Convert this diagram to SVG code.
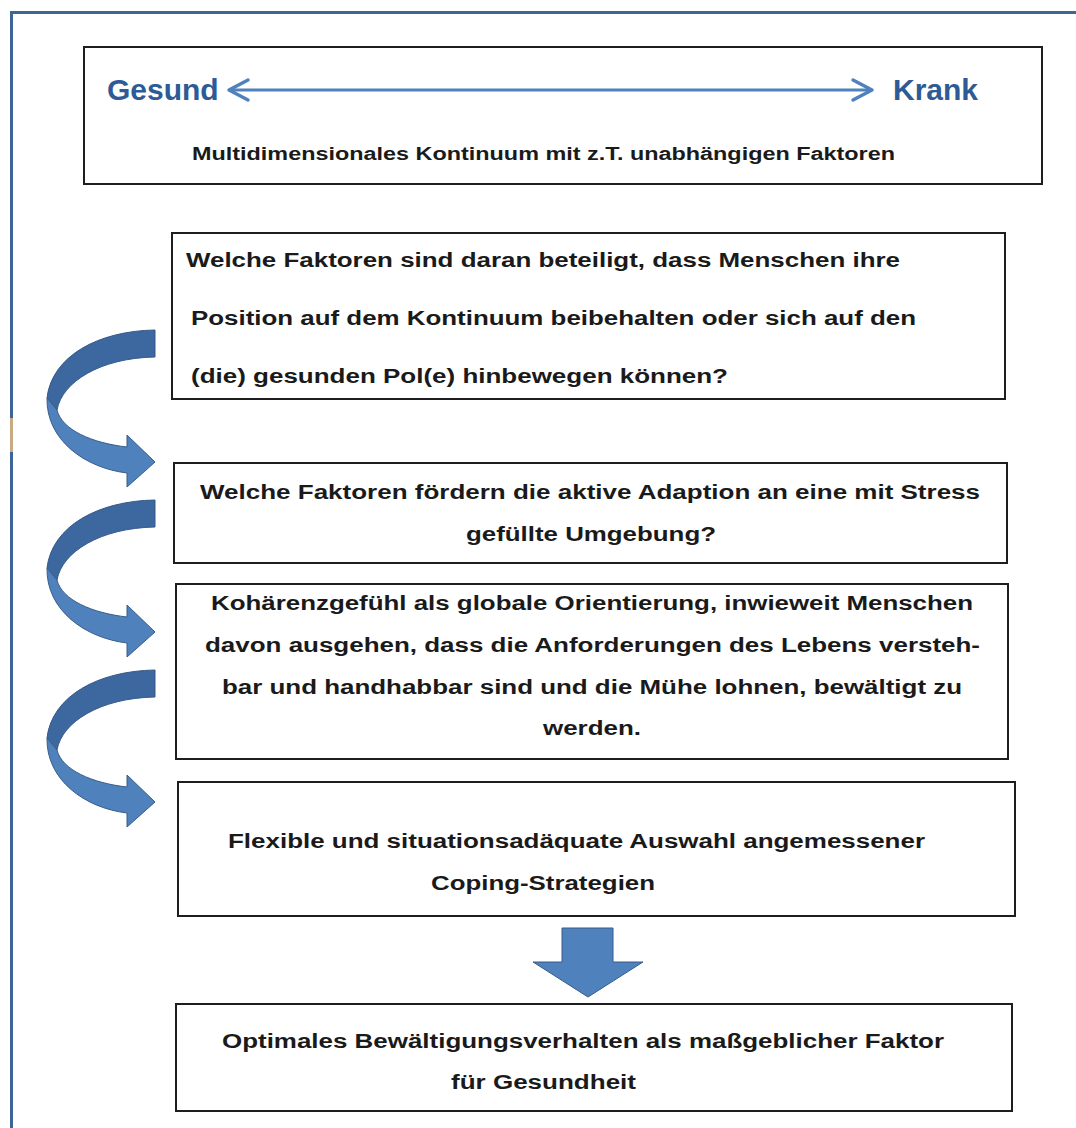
<svg xmlns="http://www.w3.org/2000/svg" width="1076" height="1128" viewBox="0 0 1076 1128">
  <style>
    .box { fill: #ffffff; stroke: #1e1e1e; stroke-width: 2; }
    .txt { font-family: "Liberation Sans", Arial, sans-serif; font-weight: bold; font-size: 20px; fill: #1a1a1a; }
    .sub { font-size: 18px; }
    .pole { font-family: "Liberation Sans", Arial, sans-serif; font-weight: bold; font-size: 30px; fill: #2d5b96; }
    .curl-back { fill: #3c689f; stroke: #36598a; stroke-width: 1; }
    .curl-front { fill: #4f81bd; stroke: #385d8a; stroke-width: 1; }
    .chev { fill: none; stroke: #4f81bd; stroke-width: 3.5; stroke-linecap: round; stroke-linejoin: round; }
  </style>
  <defs>
    <!-- curved "next step" arrow: darker back ribbon on top, lighter front ribbon with head -->
    <g id="curl">
      <path class="curl-back" d="M155,330 C98,331 52,356 47,398 L57,410 C62,382 100,358 155,357 Z"/>
      <path class="curl-front" d="M47,398 C46,440 85,468 127,473 L127,487 L155,462 L127,435 L127,447 C92,443 62,430 57,410 Z"/>
    </g>
  </defs>

  <rect x="0" y="0" width="1076" height="1128" fill="#ffffff"/>

  <!-- page frame -->
  <rect x="11.5" y="12.5" width="1100" height="1200" fill="none" stroke="#3d6597" stroke-width="3"/>
  <rect x="10" y="418" width="3" height="34" fill="#c8aa84"/>

  <!-- connectors -->
  <g id="connectors">
    <use href="#curl"/>
    <use href="#curl" transform="translate(0,170)"/>
    <use href="#curl" transform="translate(0,340)"/>
    <path id="down-arrow" d="M562,928 L613,928 L613,962 L643,962 L588,997 L533,962 L562,962 Z" fill="#4f81bd" stroke="#385d8a" stroke-width="1"/>
  </g>

  <!-- continuum header -->
  <g id="continuum">
    <rect class="box" x="84" y="47" width="958" height="137"/>
    <text class="pole" x="107" y="100">Gesund</text>
    <text class="pole" x="893" y="100">Krank</text>
    <line x1="229" y1="90" x2="872" y2="90" stroke="#4f81bd" stroke-width="3"/>
    <polyline class="chev" points="248,80 229,90 248,100"/>
    <polyline class="chev" points="853,80 872,90 853,100"/>
    <text class="txt sub" x="192" y="160" textLength="703" lengthAdjust="spacingAndGlyphs">Multidimensionales Kontinuum mit z.T. unabhängigen Faktoren</text>
  </g>

  <g id="question-position">
    <rect class="box" x="172" y="233" width="833" height="166"/>
    <text class="txt" x="186" y="267" textLength="714" lengthAdjust="spacingAndGlyphs">Welche Faktoren sind daran beteiligt, dass Menschen ihre</text>
    <text class="txt" x="191" y="325" textLength="725" lengthAdjust="spacingAndGlyphs">Position auf dem Kontinuum beibehalten oder sich auf den</text>
    <text class="txt" x="191" y="383" textLength="537" lengthAdjust="spacingAndGlyphs">(die) gesunden Pol(e) hinbewegen können?</text>
  </g>

  <g id="question-adaption">
    <rect class="box" x="174" y="463" width="833" height="100"/>
    <text class="txt" x="200" y="499" textLength="780" lengthAdjust="spacingAndGlyphs">Welche Faktoren fördern die aktive Adaption an eine mit Stress</text>
    <text class="txt" x="466" y="541" textLength="250" lengthAdjust="spacingAndGlyphs">gefüllte Umgebung?</text>
  </g>

  <g id="coherence">
    <rect class="box" x="176" y="584" width="832" height="175"/>
    <text class="txt" x="211" y="610" textLength="762" lengthAdjust="spacingAndGlyphs">Kohärenzgefühl als globale Orientierung, inwieweit Menschen</text>
    <text class="txt" x="205" y="652" textLength="775" lengthAdjust="spacingAndGlyphs">davon ausgehen, dass die Anforderungen des Lebens versteh-</text>
    <text class="txt" x="222" y="694" textLength="740" lengthAdjust="spacingAndGlyphs">bar und handhabbar sind und die Mühe lohnen, bewältigt zu</text>
    <text class="txt" x="543" y="735" textLength="98" lengthAdjust="spacingAndGlyphs">werden.</text>
  </g>

  <g id="coping">
    <rect class="box" x="178" y="782" width="837" height="134"/>
    <text class="txt" x="228" y="848" textLength="697" lengthAdjust="spacingAndGlyphs">Flexible und situationsadäquate Auswahl angemessener</text>
    <text class="txt" x="431" y="890" textLength="224" lengthAdjust="spacingAndGlyphs">Coping-Strategien</text>
  </g>

  <g id="outcome">
    <rect class="box" x="176" y="1004" width="836" height="107"/>
    <text class="txt" x="222" y="1048" textLength="722" lengthAdjust="spacingAndGlyphs">Optimales Bewältigungsverhalten als maßgeblicher Faktor</text>
    <text class="txt" x="451" y="1089" textLength="185" lengthAdjust="spacingAndGlyphs">für Gesundheit</text>
  </g>
</svg>
